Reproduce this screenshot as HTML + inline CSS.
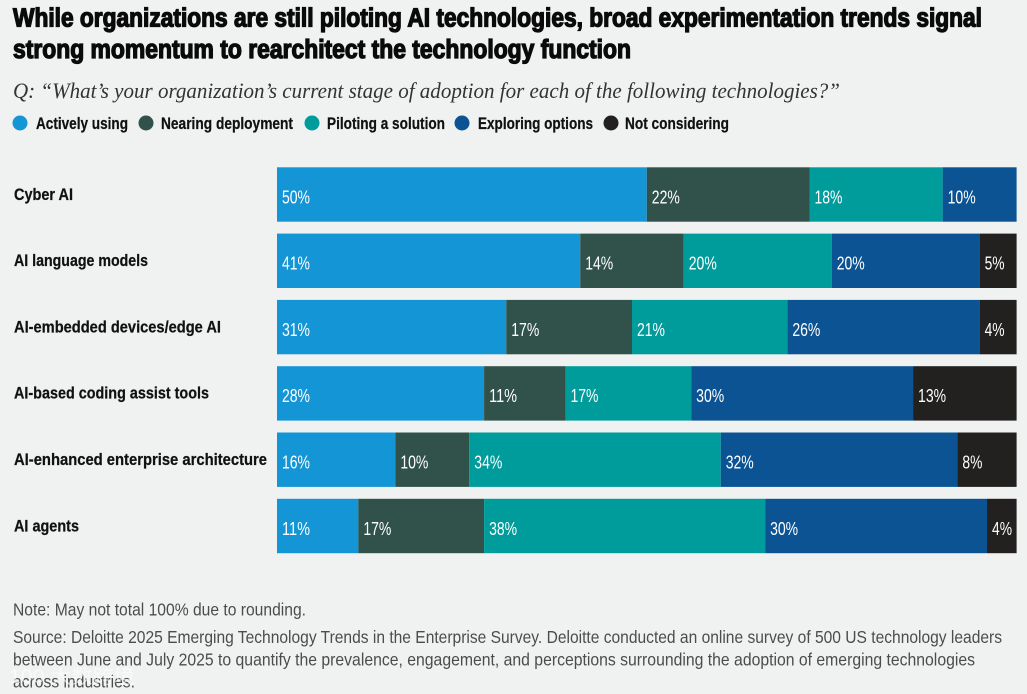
<!DOCTYPE html>
<html lang="en">
<head>
<meta charset="utf-8">
<title>AI adoption stages</title>
<style>
html,body{margin:0;padding:0;background:#f0f2f2;}
#chart{display:block;width:1027px;height:694px;}
.title{font-family:"Liberation Sans",sans-serif;font-weight:700;font-size:25.5px;fill:#0a0a0a;stroke:#0a0a0a;stroke-width:1.3px;}
.sub{font-family:"Liberation Serif",serif;font-style:italic;font-size:22px;fill:#333;}
.leg,.cat{font-family:"Liberation Sans Narrow","Liberation Sans",sans-serif;font-weight:700;font-size:17px;fill:#111;stroke:#111;stroke-width:.25px;}
.val{font-family:"Liberation Sans Narrow","Liberation Sans",sans-serif;font-size:18.5px;fill:#fff;}
.foot{font-family:"Liberation Sans",sans-serif;font-size:17.5px;fill:#4c4c4c;}
.wm{font-family:"Liberation Sans","Noto Sans CJK SC",sans-serif;font-size:19px;fill:#fff;opacity:.6;}
</style>
</head>
<body>
<svg id="chart" xmlns="http://www.w3.org/2000/svg" width="1027" height="694" viewBox="0 0 1027 694">
  <rect x="0" y="0" width="1027" height="694" fill="#f0f2f2"/>
  <text class="title" x="13" y="26.5" textLength="969" lengthAdjust="spacingAndGlyphs">While organizations are still piloting AI technologies, broad experimentation trends signal</text>
  <text class="title" x="13" y="58" textLength="618" lengthAdjust="spacingAndGlyphs">strong momentum to rearchitect the technology function</text>
  <text class="sub" x="13" y="98" textLength="827" lengthAdjust="spacingAndGlyphs">Q: “What’s your organization’s current stage of adoption for each of the following technologies?”</text>
  <g id="legend"></g>
  <g id="bars"></g>
  <g id="cats"></g>
  <text class="foot" x="13" y="615.5" textLength="293" lengthAdjust="spacingAndGlyphs">Note: May not total 100% due to rounding.</text>
  <text class="foot" x="13" y="643" textLength="989" lengthAdjust="spacingAndGlyphs">Source: Deloitte 2025 Emerging Technology Trends in the Enterprise Survey. Deloitte conducted an online survey of 500 US technology leaders</text>
  <text class="foot" x="13" y="665.5" textLength="962" lengthAdjust="spacingAndGlyphs">between June and July 2025 to quantify the prevalence, engagement, and perceptions surrounding the adoption of emerging technologies</text>
  <text class="foot" x="13" y="687.5" textLength="122" lengthAdjust="spacingAndGlyphs">across industries.</text>
  <text class="wm" x="9" y="683" textLength="126" lengthAdjust="spacingAndGlyphs">100 大数跨境</text>
</svg>
<script>
const categories = ["Cyber AI", "AI language models", "AI-embedded devices/edge AI", "AI-based coding assist tools", "AI-enhanced enterprise architecture", "AI agents"];
const seriesNames = ["Actively using", "Nearing deployment", "Piloting a solution", "Exploring options", "Not considering"];
const seriesColors = ["#1495d5", "#31524a", "#009c9c", "#0c5393", "#222120"];
const activelyUsing = [50, 41, 31, 28, 16, 11];
const nearingDeployment = [22, 14, 17, 11, 10, 17];
const pilotingSolution = [18, 20, 21, 17, 34, 38];
const exploringOptions = [10, 20, 26, 30, 32, 30];
const notConsidering = [0, 5, 5, 14, 8, 4];
const printedNotConsidering = ["", "5%", "4%", "13%", "8%", "4%"];

const svgNS = "http://www.w3.org/2000/svg";
const seriesValues = [activelyUsing, nearingDeployment, pilotingSolution, exploringOptions, notConsidering];
const plotLeft = 277, plotRight = 1016.6, plotTop = 167.3, rowStep = 66.3, rowHeight = 54.4;
function xScale(v) { return plotLeft + v * (plotRight - plotLeft) / 100; }
function yScale(i) { return plotTop + i * rowStep; }

const legendCircleX = [20, 146, 312, 462, 611];
const legendTextX = [36, 161, 327, 478, 625];
const legendTextW = [92, 132, 118, 115, 104];
const legend = document.getElementById("legend");
seriesNames.forEach(function (name, s) {
  const c = document.createElementNS(svgNS, "circle");
  
  
  c.setAttribute("cx", legendCircleX[s]);
  c.setAttribute("cy", 123);
  c.setAttribute("r", 7.5);
  c.setAttribute("fill", seriesColors[s]);
  legend.appendChild(c);
  const t = document.createElementNS(svgNS, "text");
  
  
  t.setAttribute("class", "leg");
  t.setAttribute("x", legendTextX[s]);
  t.setAttribute("y", 129);
  t.setAttribute("textLength", legendTextW[s]);
  t.setAttribute("lengthAdjust", "spacingAndGlyphs");
  t.textContent = name;
  legend.appendChild(t);
});

const catWidths = [59, 134, 207, 195, 253, 65];
const cats = document.getElementById("cats");
categories.forEach(function (name, i) {
  const t = document.createElementNS(svgNS, "text");
  
  
  t.setAttribute("class", "cat");
  t.setAttribute("x", 14);
  t.setAttribute("y", yScale(i) + 32.5);
  t.setAttribute("textLength", catWidths[i]);
  t.setAttribute("lengthAdjust", "spacingAndGlyphs");
  t.textContent = name;
  cats.appendChild(t);
});

const bars = document.getElementById("bars");
categories.forEach(function (name, i) {
  let cum = 0;
  seriesValues.forEach(function (vals, s) {
    const v = vals[i];
    if (v <= 0) return;
    const x0 = xScale(cum), x1 = xScale(cum + v);
    const r = document.createElementNS(svgNS, "rect");
    
    
    r.setAttribute("x", x0);
    r.setAttribute("y", yScale(i));
    r.setAttribute("width", x1 - x0);
    r.setAttribute("height", rowHeight);
    r.setAttribute("fill", seriesColors[s]);
    bars.appendChild(r);
    const label = s === 4 ? printedNotConsidering[i] : v + "%";
    const t = document.createElementNS(svgNS, "text");
    
    
    t.setAttribute("class", "val");
    t.setAttribute("x", x0 + 5);
    t.setAttribute("y", yScale(i) + 36);
    t.setAttribute("textLength", label.length === 3 ? 28 : 20);
    t.setAttribute("lengthAdjust", "spacingAndGlyphs");
    t.textContent = label;
    bars.appendChild(t);
    cum += v;
  });
});
</script>
</body>
</html>
